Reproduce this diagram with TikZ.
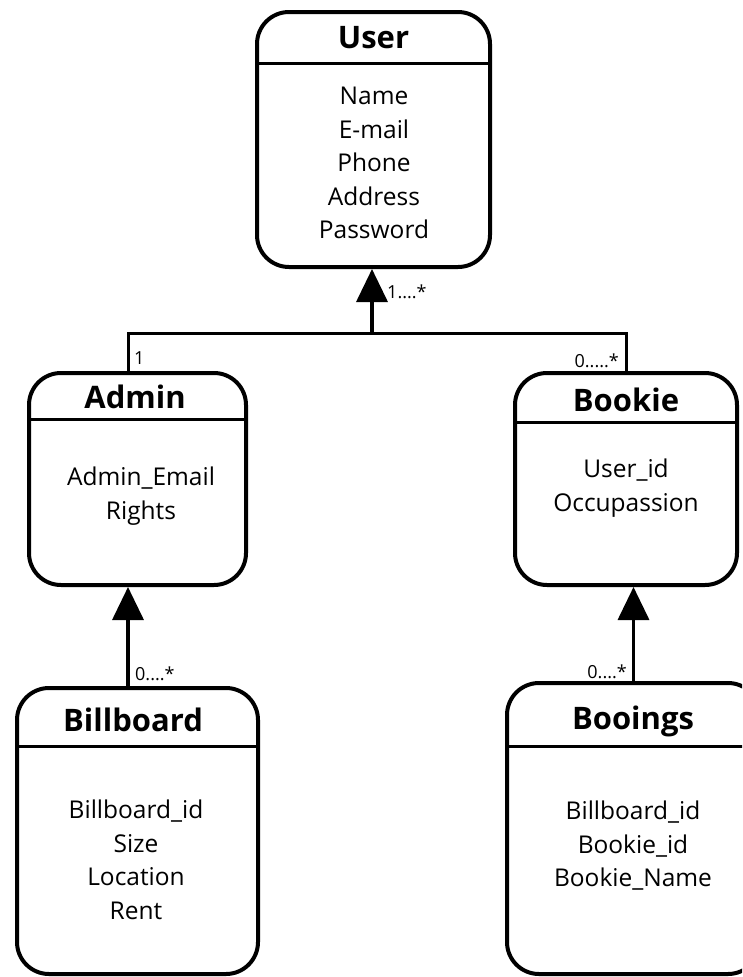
\documentclass[tikz,border=0pt]{standalone}
\usepackage{fontspec}
\setmainfont{Open Sans}
\usetikzlibrary{arrows.meta}

\begin{document}
\begin{tikzpicture}[x=1pt, y=-1pt,
    classbox/.style={draw, line width=4pt, rounded corners=32pt, inner sep=0pt},
    title/.style={font=\fontsize{31}{34}\selectfont\bfseries, inner sep=0pt, anchor=base},
    attrs/.style={font=\fontsize{24.5}{33.5}\selectfont, align=center, inner sep=0pt},
    mult/.style={font=\fontsize{18}{20}\selectfont, inner sep=0pt},
    sep/.style={line width=3pt},
    isa/.style={line width=3.5pt, -{Triangle[length=33pt, width=31pt]}},
    link/.style={line width=3pt}]
  \useasboundingbox (0,0) rectangle (742,977);
  \clip (0,0) rectangle (742,977);

  % classes
  \node[classbox, minimum width=233pt, minimum height=255pt] (user) at (373.5,139.5) {};
  \node[classbox, minimum width=217pt, minimum height=212pt] (admin) at (137.5,479) {};
  \node[classbox, minimum width=222pt, minimum height=212pt] (bookie) at (626,479) {};
  \node[classbox, minimum width=241pt, minimum height=286pt] (billboard) at (137.5,831) {};
  \node[classbox, minimum width=253pt, minimum height=291pt] (booings) at (633.5,828.5) {};

  % titles and separators
  \node[title] (usertitle) at (373.5,48) {User};
  \draw[sep] (user.west |- 0,63) -- (user.east |- 0,63);
  \node[title] (admintitle) at (135,408) {Admin};
  \draw[sep] (admin.west |- 0,419) -- (admin.east |- 0,419);
  \node[title] (bookietitle) at (626,411) {Bookie};
  \draw[sep] (bookie.west |- 0,422) -- (bookie.east |- 0,422);
  \node[title] (billboardtitle) at (133,731) {Billboard};
  \draw[sep] (billboard.west |- 0,746) -- (billboard.east |- 0,746);
  \node[title] (booingstitle) at (633,729) {Booings};
  \draw[sep] (booings.west |- 0,746) -- (booings.east |- 0,746);

  % attributes
  \node[attrs] (userattrs) at (374,163) {Name\\E-mail\\Phone\\Address\\Password};
  \node[attrs] (adminattrs) at (141,496) {Admin\_Email\\Rights};
  \node[attrs] (bookieattrs) at (626,488) {User\_id\\Occupassion};
  \node[attrs] (billboardattrs) at (136,860) {Billboard\_id\\Size\\Location\\Rent};
  \node[attrs] (booingsattrs) at (633,846) {Billboard\_id\\Bookie\_id\\Bookie\_Name};

  % connectors
  \coordinate (fork) at (372,333);
  \draw[link] ([xshift=-9.5pt]admin.north) |- (fork);
  \draw[link] (bookie.north) |- (fork);
  \draw[isa] (fork) -- (fork |- user.south);
  \draw[isa] ([xshift=-9.5pt]billboard.north) -- ([xshift=-9.5pt]admin.south);
  \draw[isa] (booings.north) -- (booings.north |- bookie.south);

  % multiplicities
  \node[mult, anchor=west] (usermult) at (387,292) {1....*};
  \node[mult, anchor=west] (adminmult) at (134,358) {1};
  \node[mult, anchor=east] (bookiemult) at (619,361) {0.....*};
  \node[mult, anchor=west] (billboardmult) at (135,674) {0....*};
  \node[mult, anchor=east] (booingsmult) at (627,672) {0....*};
\end{tikzpicture}
\end{document}
